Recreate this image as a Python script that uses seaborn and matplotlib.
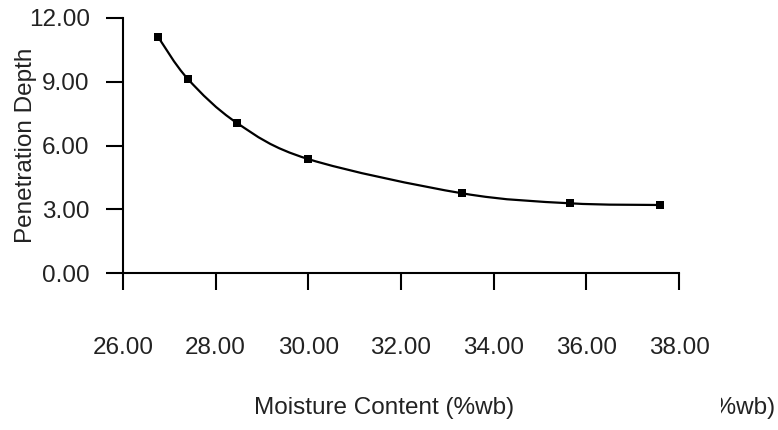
import numpy as np
import pandas as pd
import matplotlib
matplotlib.use("Agg")
import matplotlib.pyplot as plt
from matplotlib.path import Path
from matplotlib.patches import PathPatch
from matplotlib.transforms import Bbox
import seaborn as sns

# data
moisture = [26.76, 27.40, 28.46, 30.00, 33.32, 35.65, 37.60]
depth = [11.10, 9.13, 7.06, 5.36, 3.75, 3.28, 3.20]
x_ticks = [26, 28, 30, 32, 34, 36, 38]
y_ticks = [0, 3, 6, 9, 12]
x_label = "Moisture Content (%wb)"
y_label = "Penetration Depth"

df = pd.DataFrame({"Moisture": moisture, "Depth": depth})

sns.set_style("ticks")
plt.rcParams["font.family"] = ["Liberation Sans", "DejaVu Sans"]
FS = 17.5

fig = plt.figure(figsize=(7.78, 4.30), dpi=100)
ax = fig.add_axes([123 / 778, 1 - 273 / 430, 556 / 778, 255 / 430])


def smooth_path(xs, ys):
    # excel-like smoothed line: cubic bezier through the points
    pts = np.column_stack([xs, ys])
    n = len(pts)
    verts = [pts[0]]
    codes = [Path.MOVETO]
    for i in range(n - 1):
        p0 = pts[max(i - 1, 0)]
        p1 = pts[i]
        p2 = pts[i + 1]
        p3 = pts[min(i + 2, n - 1)]
        c1 = p1 + (p2 - p0) / 6
        c2 = p2 - (p3 - p1) / 6
        verts += [c1, c2, p2]
        codes += [Path.CURVE4] * 3
    return Path(verts, codes)


ax.add_patch(PathPatch(smooth_path(df["Moisture"], df["Depth"]),
                       facecolor="none", edgecolor="black", lw=1.6, zorder=2))
sns.scatterplot(data=df, x="Moisture", y="Depth", marker="s", s=40,
                color="black", edgecolor="black", linewidth=0, ax=ax, zorder=3)

ax.set_xlim(26, 38)
ax.set_ylim(0, 12)
ax.set_xticks(x_ticks)
ax.set_yticks(y_ticks)
ax.set_xticklabels([f"{v:.2f}" for v in x_ticks])
ax.set_yticklabels([f"{v:.2f}" for v in y_ticks])
ax.tick_params(axis="both", direction="out", length=12, width=1.5,
               colors="black", labelsize=FS, labelcolor="#222222")
ax.tick_params(axis="x", pad=34)
ax.tick_params(axis="y", pad=12)
for side in ["left", "bottom"]:
    ax.spines[side].set_linewidth(1.5)
    ax.spines[side].set_color("black")
sns.despine(ax=ax)

ax.set_xlabel("")
ax.set_ylabel(y_label, fontsize=FS, color="#222222")
ax.yaxis.set_label_coords(-0.155, 0.5)

fig.text(384 / 778, 1 - 408 / 430, x_label, ha="center", va="center",
         fontsize=FS, color="#222222")
# stray copy of the axis title, cut off at the left like in the source
stray = fig.text(775 / 778, 1 - 408 / 430, x_label, ha="right", va="center",
                 fontsize=FS, color="#222222")
stray.set_clip_box(Bbox.from_extents(721, 0, 778, 430))
stray.set_clip_on(True)

fig.savefig("out.png", dpi=100)
